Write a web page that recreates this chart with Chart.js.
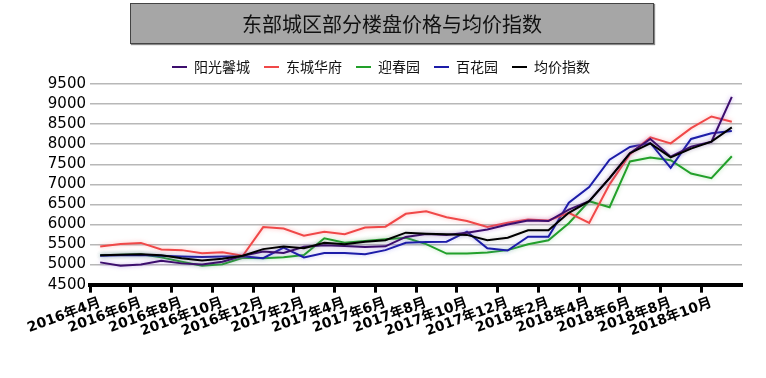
<!DOCTYPE html>
<html>
<head>
<meta charset="utf-8">
<script src="https://cdn.jsdelivr.net/npm/chart.js@4.4.0/dist/chart.umd.min.js"></script>
<style>
  html, body { margin: 0; padding: 0; background: #fff; }
  #wrap { position: relative; width: 766px; height: 378px; }
  #title {
    position: absolute; left: 130px; top: 3px; width: 522px; height: 39px;
    background: #a6a6a6; border: 1px solid #444; box-shadow: 1px 1px 1px #888;
    font: 20px "Noto Sans CJK SC", sans-serif; color: #111;
    text-align: center; line-height: 39px; z-index: 2;
  }
  canvas { position: absolute; left: 0; top: 0; }
</style>
</head>
<body>
<div id="wrap">
  <div id="title">东部城区部分楼盘价格与均价指数</div>
  <canvas id="price-chart" width="766" height="378"></canvas>
</div>
<script>
// months on the x axis (one per month, every other one is labelled)
const months = [
  '2016年4月', '2016年5月', '2016年6月', '2016年7月', '2016年8月', '2016年9月',
  '2016年10月', '2016年11月', '2016年12月', '2017年1月', '2017年2月', '2017年3月',
  '2017年4月', '2017年5月', '2017年6月', '2017年7月', '2017年8月', '2017年9月',
  '2017年10月', '2017年11月', '2017年12月', '2018年1月', '2018年2月', '2018年3月',
  '2018年4月', '2018年5月', '2018年6月', '2018年7月', '2018年8月', '2018年9月',
  '2018年10月', '2018年11月'
]

// series values
const yangguang = [5055, 4970, 5000, 5095, 5030, 5000, 5070, 5220, 5325, 5290, 5445, 5480, 5460, 5440, 5455, 5690,
                   5760, 5740, 5795, 5875, 6000, 6100, 6085, 6370, 6580, 7155, 7775, 8130, 7690, 7940, 8060, 9180]
const dongcheng = [5450, 5515, 5540, 5375, 5360, 5285, 5310, 5220, 5935, 5900, 5720, 5820, 5755, 5925, 5945, 6265,
                   6330, 6180, 6085, 5935, 6040, 6125, 6100, 6290, 6040, 7000, 7750, 8170, 8020, 8400, 8690, 8560]
const yingchun  = [5235, 5245, 5260, 5180, 5070, 4970, 5010, 5170, 5160, 5180, 5240, 5655, 5545, 5590, 5630, 5670,
                   5510, 5275, 5275, 5300, 5360, 5505, 5605, 6030, 6580, 6430, 7570, 7670, 7600, 7270, 7155, 7700]
const baihua    = [5220, 5230, 5240, 5220, 5200, 5190, 5200, 5210, 5160, 5425, 5180, 5290, 5290, 5260, 5360, 5545,
                   5560, 5570, 5820, 5405, 5350, 5695, 5695, 6540, 6930, 7615, 7930, 8030, 7410, 8130, 8270, 8330]
const junjia    = [5235, 5245, 5260, 5235, 5160, 5100, 5145, 5220, 5385, 5450, 5410, 5545, 5505, 5570, 5605, 5795,
                   5770, 5755, 5740, 5605, 5670, 5855, 5855, 6290, 6580, 7155, 7775, 8020, 7670, 7890, 8065, 8420]

// y axis ticks
const yTicks = [4500, 5000, 5500, 6000, 6500, 7000, 7500, 8000, 8500, 9000, 9500]

// soft halo round each line, like the original
const glowPlugin = {
  id: 'glow',
  beforeDatasetDraw(chart, args) {
    const ctx = chart.ctx
    ctx.save()
    ctx.shadowColor = args.meta._dataset.glow
    ctx.shadowBlur = 4
  },
  afterDatasetDraw(chart) {
    chart.ctx.restore()
  }
}

const line = (label, data, color, glow, order) => ({
  label, data, order, glow,
  borderColor: color, backgroundColor: color,
  borderWidth: 2, pointRadius: 0, tension: 0, fill: false
})

const chartCanvas = document.querySelector('#price-chart')

new Chart(chartCanvas, {
  type: 'line',
  data: {
    labels: months,
    datasets: [
      line('阳光馨城', yangguang, '#3d0e6e', 'rgba(150,90,220,0.55)', 2),
      line('东城华府', dongcheng, '#f04848', 'rgba(255,120,120,0.55)', 3),
      line('迎春园', yingchun, '#22a02a', 'rgba(90,200,90,0.45)', 5),
      line('百花园', baihua, '#1c1ca8', 'rgba(110,110,240,0.45)', 4),
      line('均价指数', junjia, '#000000', 'rgba(80,80,80,0.35)', 1)
    ]
  },
  plugins: [glowPlugin],
  options: {
    responsive: false,
    animation: false,
    layout: { padding: { left: 20, right: 24, top: 46, bottom: 36 } },
    plugins: {
      legend: {
        position: 'top',
        labels: {
          usePointStyle: true,
          pointStyle: 'line',
          pointStyleWidth: 15,
          boxHeight: 14,
          padding: 14,
          color: '#111',
          font: { family: '"Noto Sans CJK SC"', size: 14 },
          sort: (a, b) => a.datasetIndex - b.datasetIndex
        }
      },
      tooltip: { enabled: false }
    },
    scales: {
      x: {
        offset: true,
        border: { color: '#000', width: 4 },
        grid: {
          offset: true,
          drawOnChartArea: false,
          tickLength: 8,
          tickWidth: 3,
          tickColor: (c) => (c.index % 2 === 0 ? '#000' : 'rgba(0,0,0,0)')
        },
        ticks: {
          autoSkip: false,
          minRotation: 20,
          maxRotation: 20,
          padding: 2,
          color: '#000',
          font: { family: '"DejaVu Sans", "Noto Sans CJK SC"', size: 14, weight: 'bold' },
          callback: function (value, index) {
            return index % 2 === 0 ? months[index] : ''
          }
        }
      },
      y: {
        min: yTicks[0],
        max: yTicks[yTicks.length - 1],
        afterFit: (scale) => { scale.width = 70 },
        afterBuildTicks: (scale) => { scale.ticks = yTicks.map(v => ({ value: v })) },
        border: { display: false },
        grid: { color: '#b8b8b8', lineWidth: 1.5, drawTicks: false },
        ticks: {
          autoSkip: false,
          padding: 4,
          color: '#000',
          font: { family: '"DejaVu Sans"', size: 15 },
          callback: (value) => String(value)
        }
      }
    }
  }
})
</script>
</body>
</html>
